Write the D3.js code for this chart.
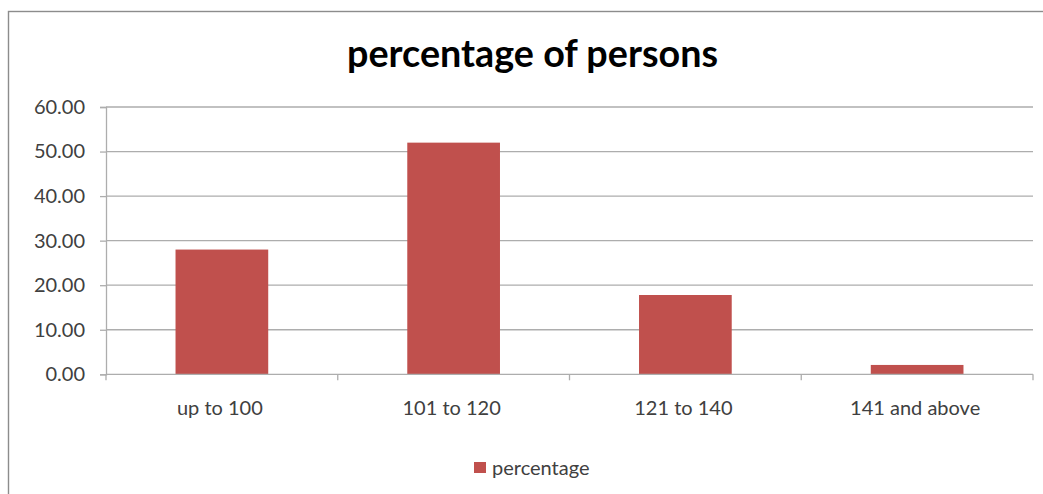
<!DOCTYPE html>
<html>
<head>
<meta charset="utf-8">
<script src="https://cdn.jsdelivr.net/npm/d3@7"></script>
<style>
  html, body { margin: 0; padding: 0; background: #fff; }
  svg { display: block; }
  text { font-family: Lato, "Open Sans", sans-serif; }
</style>
</head>
<body>
<svg id="chart" width="1043" height="494"></svg>
<script>
const categories = ["up to 100", "101 to 120", "121 to 140", "141 and above"];
const values = [28.0, 52.0, 17.8, 2.1];
const yTicks = [0, 10, 20, 30, 40, 50, 60];
const seriesName = "percentage";
const chartTitle = "percentage of persons";

const svg = d3.select("#chart");
const W = 1043, H = 494;
const plot = { left: 106, right: 1033, top: 107, bottom: 374.3 };
const barColor = "#C0504D";
const gridColor = "#adadad";
const textColor = "#404040";
const labelSize = "20px";

// outer chart-area frame
svg.append("rect")
  .attr("x", 8.5).attr("y", 11.5)
  .attr("width", W + 20).attr("height", H + 20)
  .attr("fill", "#fff").attr("stroke", "#8c8c8c").attr("stroke-width", 1.4);

const x = d3.scaleBand().domain(categories).range([plot.left, plot.right]).padding(0);
const y = d3.scaleLinear().domain([0, 60]).range([plot.bottom, plot.top]);

// horizontal gridlines
svg.append("g")
  .selectAll("line").data(yTicks.filter(d => d > 0)).join("line")
  .attr("x1", plot.left).attr("x2", plot.right)
  .attr("y1", d => y(d)).attr("y2", d => y(d))
  .attr("stroke", gridColor).attr("stroke-width", 1.3);

// y axis
const yAxis = d3.axisLeft(y).tickValues(yTicks).tickFormat(d3.format(".2f")).tickSize(6).tickPadding(15);
const gy = svg.append("g").attr("transform", `translate(${plot.left},0)`).call(yAxis);
gy.select(".domain").attr("stroke", gridColor).attr("stroke-width", 1.3);
gy.selectAll(".tick line").attr("stroke", gridColor).attr("stroke-width", 1.3);
gy.selectAll(".tick text").attr("fill", textColor).style("font-size", labelSize);

// bars: width is 40% of each category slot
const barW = x.bandwidth() * 0.4;
svg.append("g")
  .selectAll("rect").data(values).join("rect")
  .attr("x", (d, i) => x(categories[i]) + (x.bandwidth() - barW) / 2)
  .attr("y", d => y(d))
  .attr("width", barW)
  .attr("height", d => y(0) - y(d))
  .attr("fill", barColor);

// x axis with ticks on category boundaries
svg.append("line")
  .attr("x1", plot.left).attr("x2", plot.right)
  .attr("y1", y(0)).attr("y2", y(0))
  .attr("stroke", gridColor).attr("stroke-width", 1.3);
const bounds = categories.map(c => x(c)).concat([plot.right]);
svg.append("g")
  .selectAll("line").data(bounds).join("line")
  .attr("x1", d => d).attr("x2", d => d)
  .attr("y1", y(0)).attr("y2", y(0) + 6)
  .attr("stroke", gridColor).attr("stroke-width", 1.3);
svg.append("g")
  .selectAll("text").data(categories).join("text")
  .attr("x", d => x(d) + x.bandwidth() / 2 - 2)
  .attr("y", 415)
  .attr("text-anchor", "middle")
  .attr("fill", textColor)
  .style("font-size", labelSize)
  .text(d => d);

// title
svg.append("text")
  .attr("x", 532.5).attr("y", 67)
  .attr("text-anchor", "middle")
  .attr("fill", "#000")
  .attr("textLength", 371).attr("lengthAdjust", "spacingAndGlyphs")
  .style("font-size", "39px").style("font-weight", "bold")
  .text(chartTitle);

// legend
const lg = svg.append("g").attr("transform", "translate(474,462)");
lg.append("rect").attr("width", 12).attr("height", 11).attr("fill", barColor);
lg.append("text").attr("x", 18).attr("y", 13)
  .attr("fill", textColor).style("font-size", labelSize)
  .text(seriesName);
</script>
</body>
</html>
